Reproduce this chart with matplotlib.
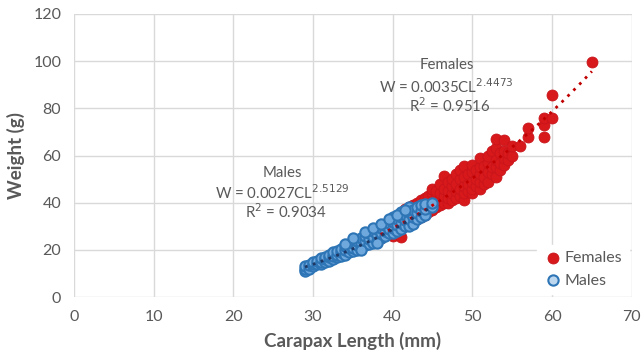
import numpy as np
import matplotlib
matplotlib.use('Agg')
import matplotlib.pyplot as plt

plt.rcParams['font.family'] = ['Lato', 'DejaVu Sans']

# carapax length (mm) and weight (g)
males_cl = [29.0, 29.0, 29.0, 29.5, 29.5, 30.0, 30.0, 30.0, 30.5, 30.5,
            31.0, 31.0, 31.0, 31.5, 31.5, 31.5, 32.0, 32.0, 32.0, 32.5,
            32.5, 32.5, 33.0, 33.0, 33.0, 33.5, 33.5, 33.5, 34.0, 34.0,
            34.0, 34.5, 34.5, 34.5, 35.0, 35.0, 35.0, 35.0, 35.5, 35.5,
            35.5, 36.0, 36.0, 36.0, 36.5, 36.5, 36.5, 37.0, 37.0, 37.0,
            37.5, 37.5, 37.5, 38.0, 38.0, 38.0, 38.5, 38.5, 38.5, 39.0,
            39.0, 39.0, 39.5, 39.5, 39.5, 40.0, 40.0, 40.0, 40.0, 40.5,
            40.5, 40.5, 41.0, 41.0, 41.0, 41.0, 41.5, 41.5, 41.5, 42.0,
            42.0, 42.0, 42.0, 42.5, 42.5, 42.5, 43.0, 43.0, 43.0, 43.5,
            43.5, 43.5, 44.0, 44.0, 44.0, 45.0, 45.0,
            34.0, 35.0, 36.5, 37.5, 38.5, 39.5, 40.5, 41.5, 36.0, 38.0]
males_w = [11, 12, 13, 12, 13.5, 13, 14, 15, 14, 15.5,
           14, 15, 16.5, 15, 16, 17, 15.5, 17, 18, 16,
           17.5, 19, 17, 18, 19.5, 17.5, 19, 20.5, 18, 20,
           21.5, 19, 21, 22.5, 19.5, 21, 23, 24, 20, 22,
           24, 21, 23, 25, 22, 24, 26, 22.5, 24.5, 27,
           23, 25.5, 28, 24, 26.5, 29, 25, 27, 29.5, 26,
           28, 30.5, 27, 29, 31.5, 27, 29.5, 32, 34, 28,
           30.5, 33, 29, 31.5, 34, 36, 30, 32.5, 35, 30,
           33, 36, 38, 31, 34, 37, 33, 35.5, 38, 34,
           36.5, 39, 35, 37.5, 39.5, 38, 40,
           22.5, 25, 27.5, 29.5, 31, 33, 35, 37, 20, 23]

females_cl = [38.5, 38.5, 39.0, 39.0, 40.0, 40.0, 40.0, 40.5, 40.5, 41.0,
              41.0, 41.0, 41.5, 41.5, 41.5, 42.0, 42.0, 42.0, 42.0, 42.5,
              42.5, 42.5, 43.0, 43.0, 43.0, 43.5, 43.5, 43.5, 44.0, 44.0,
              44.0, 44.5, 44.5, 44.5, 45.0, 45.0, 45.0, 45.0, 45.5, 45.5,
              45.5, 46.0, 46.0, 46.0, 46.0, 46.5, 46.5, 46.5, 46.5, 47.0,
              47.0, 47.0, 47.0, 47.5, 47.5, 47.5, 47.5, 48.0, 48.0, 48.0,
              48.0, 48.5, 48.5, 48.5, 48.5, 49.0, 49.0, 49.0, 49.0, 49.0,
              49.5, 49.5, 49.5, 50.0, 50.0, 50.0, 50.0, 50.0, 50.5, 50.5,
              50.5, 51.0, 51.0, 51.0, 51.0, 51.0, 51.5, 51.5, 51.5, 52.0,
              52.0, 52.0, 52.0, 52.5, 52.5, 52.5, 53.0, 53.0, 53.0, 53.0,
              53.0, 53.5, 53.5, 53.5, 54.0, 54.0, 54.0, 54.0, 54.5, 54.5,
              55.0, 55.0, 56.0, 57.0, 57.0, 59.0, 59.0, 59.0, 60.0, 60.0,
              65.0]
females_w = [25, 28, 27, 30, 26, 29, 31, 30, 33, 25.5,
             32, 35, 30, 34, 37.5, 31, 33, 36, 38, 32,
             35, 39, 33, 36, 40, 34, 37, 41, 35, 38,
             42, 36, 39, 43, 37, 40, 44, 46, 38, 42,
             45, 39, 41, 44, 48, 40, 43, 46, 51.5, 40,
             42, 45, 49, 41, 44, 47, 50, 42, 45, 48,
             52, 43, 46, 50, 54, 41, 44, 47, 51, 55.5,
             45, 48, 52, 44, 46, 49, 53, 56, 47, 50,
             54, 46, 49, 52, 55, 59, 48, 51, 55.5, 49,
             53, 57, 60, 52, 55, 62, 51, 55, 58, 63,
             67, 54, 57, 61, 56, 59, 62, 66.5, 58, 61,
             60, 64, 64, 68, 71.5, 68, 73, 76, 76, 85.5,
             99.5]

# power-law fits shown on the chart: W = a * CL^b
fem_a, fem_b, fem_r2 = 0.0035, 2.4473, 0.9516
mal_a, mal_b, mal_r2 = 0.0027, 2.5129, 0.9034

grey = '#595959'
red = '#D7191C'
blue_edge = '#2E75B6'
blue_face = '#6FA8DC'

fig = plt.figure(figsize=(6.42, 3.58), dpi=100)
ax = fig.add_axes([0.115, 0.170, 0.869, 0.791])

ax.scatter(females_cl, females_w, s=62, color=red, edgecolor='#C8141A',
           linewidth=0.6, label='Females', zorder=3)
ax.scatter(males_cl, males_w, s=55, facecolor=blue_face, edgecolor=blue_edge,
           linewidth=1.5, label='Males', zorder=4)

xf = np.linspace(min(females_cl), max(females_cl), 200)
ax.plot(xf, fem_a * xf ** fem_b, linestyle=(0, (1, 2)), color='#C00000',
        linewidth=2, zorder=5)
xm = np.linspace(min(males_cl), max(males_cl), 200)
ax.plot(xm, mal_a * xm ** mal_b, linestyle=(0, (1, 2)), color='#1F3864',
        linewidth=2, zorder=5)

# trend line labels
tk = dict(ha='center', va='center', color=grey, fontsize=10.8, zorder=6)
ax.text(46.8, 98.3, 'Females', **tk)
ax.text(46.8, 89.1, 'W = %.4fCL$^{%.4f}$' % (fem_a, fem_b), **tk)
ax.text(47.2, 81.2, 'R$^2$ = %.4f' % fem_r2, **tk)
ax.text(26.2, 52.5, 'Males', **tk)
ax.text(26.2, 44.1, 'W = %.4fCL$^{%.4f}$' % (mal_a, mal_b), **tk)
ax.text(26.6, 36.2, 'R$^2$ = %.4f' % mal_r2, **tk)

ax.set_xlim(0, 70)
ax.set_ylim(0, 120)
ax.set_xticks(range(0, 71, 10))
ax.set_yticks(range(0, 121, 20))
ax.grid(True, color='#D9D9D9', linewidth=1)
ax.set_axisbelow(True)
for s in ax.spines.values():
    s.set_visible(False)
ax.tick_params(length=0, colors=grey, labelsize=11.5, pad=9)

ax.set_xlabel('Carapax Length (mm)', color=grey, fontsize=13.5, fontweight='bold', labelpad=6)
ax.set_ylabel('Weight (g)', color=grey, fontsize=13.5, fontweight='bold', labelpad=6)

leg = ax.legend(loc='lower right', frameon=True, fancybox=False, framealpha=1,
                edgecolor='white', facecolor='white', fontsize=11.5,
                handletextpad=0.1, handlelength=1.2, borderaxespad=0.2,
                labelspacing=0.5)
for t in leg.get_texts():
    t.set_color(grey)
leg.legend_handles[1].set_facecolor('#BDD7EE')

fig.savefig('out.png', dpi=100)
